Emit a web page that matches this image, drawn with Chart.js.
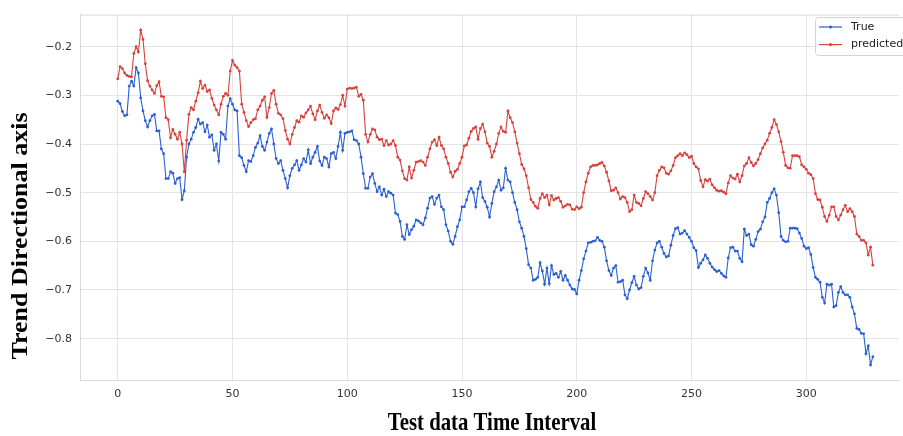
<!DOCTYPE html>
<html>
<head>
<meta charset="utf-8">
<title>Trend Directional axis</title>
<script src="https://cdn.jsdelivr.net/npm/chart.js@4.4.0/dist/chart.umd.min.js"></script>
<style>
  html, body { margin: 0; padding: 0; background: #fff; overflow: hidden; }
  #wrap { position: relative; width: 903px; height: 436px; }
</style>
</head>
<body>
<div id="wrap"><canvas id="trendChart"></canvas></div>
<script>
// tick values for both axes
const xTicks = [0, 50, 100, 150, 200, 250, 300];
const yTicks = [-0.8, -0.7, -0.6, -0.5, -0.4, -0.3, -0.2];
const seriesNames = ["True", "predicted"];

// values, one per test step (0..329)
const trueValues = [
  -0.312, -0.317, -0.333, -0.342, -0.340, -0.281, -0.271, -0.281, -0.243, -0.254,
  -0.305, -0.332, -0.352, -0.365, -0.352, -0.342, -0.339, -0.373, -0.373, -0.410,
  -0.420, -0.471, -0.471, -0.457, -0.460, -0.481, -0.471, -0.469, -0.514, -0.496,
  -0.427, -0.400, -0.390, -0.376, -0.366, -0.349, -0.359, -0.356, -0.375, -0.361,
  -0.386, -0.381, -0.413, -0.400, -0.435, -0.376, -0.380, -0.390, -0.322, -0.307,
  -0.318, -0.330, -0.332, -0.424, -0.428, -0.444, -0.457, -0.434, -0.436, -0.424,
  -0.407, -0.398, -0.383, -0.405, -0.413, -0.396, -0.378, -0.369, -0.400, -0.430,
  -0.440, -0.434, -0.454, -0.471, -0.490, -0.465, -0.450, -0.443, -0.434, -0.454,
  -0.443, -0.430, -0.437, -0.412, -0.440, -0.427, -0.417, -0.405, -0.435, -0.444,
  -0.427, -0.430, -0.447, -0.420, -0.417, -0.430, -0.405, -0.376, -0.413, -0.378,
  -0.376, -0.375, -0.373, -0.391, -0.393, -0.400, -0.427, -0.461, -0.491, -0.491,
  -0.468, -0.461, -0.481, -0.498, -0.488, -0.505, -0.493, -0.508, -0.498, -0.501,
  -0.505, -0.542, -0.545, -0.559, -0.590, -0.596, -0.566, -0.586, -0.576, -0.569,
  -0.556, -0.558, -0.562, -0.566, -0.552, -0.532, -0.511, -0.508, -0.524, -0.511,
  -0.505, -0.529, -0.535, -0.566, -0.579, -0.600, -0.606, -0.590, -0.570, -0.556,
  -0.529, -0.529, -0.515, -0.498, -0.491, -0.500, -0.529, -0.492, -0.478, -0.510,
  -0.518, -0.530, -0.550, -0.522, -0.498, -0.488, -0.474, -0.495, -0.490, -0.450,
  -0.474, -0.478, -0.500, -0.520, -0.535, -0.560, -0.573, -0.590, -0.615, -0.648,
  -0.655, -0.680, -0.678, -0.674, -0.644, -0.661, -0.688, -0.655, -0.687, -0.650,
  -0.668, -0.666, -0.674, -0.662, -0.680, -0.670, -0.680, -0.690, -0.698, -0.699,
  -0.708, -0.680, -0.660, -0.636, -0.620, -0.603, -0.602, -0.600, -0.599, -0.592,
  -0.598, -0.600, -0.612, -0.640, -0.660, -0.670, -0.655, -0.650, -0.684, -0.683,
  -0.680, -0.710, -0.718, -0.700, -0.685, -0.672, -0.690, -0.698, -0.695, -0.672,
  -0.655, -0.665, -0.680, -0.640, -0.618, -0.603, -0.600, -0.612, -0.625, -0.632,
  -0.630, -0.608, -0.588, -0.574, -0.572, -0.585, -0.583, -0.578, -0.585, -0.592,
  -0.600, -0.613, -0.619, -0.654, -0.645, -0.638, -0.628, -0.635, -0.645, -0.653,
  -0.658, -0.662, -0.660, -0.666, -0.671, -0.674, -0.634, -0.613, -0.612, -0.620,
  -0.620, -0.635, -0.642, -0.575, -0.588, -0.585, -0.607, -0.610, -0.596, -0.580,
  -0.575, -0.560, -0.550, -0.520, -0.512, -0.500, -0.492, -0.505, -0.541, -0.590,
  -0.598, -0.601, -0.600, -0.573, -0.573, -0.573, -0.574, -0.583, -0.594, -0.610,
  -0.615, -0.613, -0.627, -0.654, -0.674, -0.678, -0.684, -0.715, -0.727, -0.688,
  -0.690, -0.688, -0.735, -0.732, -0.705, -0.693, -0.705, -0.710, -0.710, -0.715,
  -0.735, -0.749, -0.779, -0.781, -0.789, -0.790, -0.831, -0.815, -0.854, -0.837
];

const predictedValues = [
  -0.266, -0.241, -0.245, -0.254, -0.259, -0.261, -0.262, -0.214, -0.200, -0.211,
  -0.166, -0.185, -0.235, -0.270, -0.281, -0.289, -0.296, -0.280, -0.272, -0.302,
  -0.303, -0.346, -0.350, -0.387, -0.370, -0.380, -0.390, -0.376, -0.400, -0.457,
  -0.392, -0.339, -0.325, -0.330, -0.312, -0.295, -0.271, -0.286, -0.279, -0.292,
  -0.289, -0.306, -0.320, -0.330, -0.340, -0.318, -0.302, -0.296, -0.300, -0.250,
  -0.228, -0.238, -0.243, -0.250, -0.318, -0.335, -0.352, -0.364, -0.356, -0.350,
  -0.348, -0.330, -0.322, -0.310, -0.303, -0.345, -0.325, -0.296, -0.290, -0.318,
  -0.337, -0.340, -0.348, -0.372, -0.390, -0.400, -0.380, -0.366, -0.352, -0.355,
  -0.342, -0.345, -0.336, -0.330, -0.322, -0.338, -0.350, -0.332, -0.320, -0.335,
  -0.347, -0.340, -0.346, -0.358, -0.332, -0.326, -0.329, -0.319, -0.300, -0.322,
  -0.287, -0.285, -0.286, -0.285, -0.283, -0.302, -0.298, -0.310, -0.380, -0.396,
  -0.380, -0.369, -0.371, -0.386, -0.391, -0.390, -0.403, -0.393, -0.402, -0.400,
  -0.393, -0.403, -0.427, -0.433, -0.455, -0.471, -0.474, -0.447, -0.470, -0.454,
  -0.437, -0.436, -0.434, -0.437, -0.444, -0.427, -0.410, -0.396, -0.391, -0.403,
  -0.386, -0.403, -0.410, -0.427, -0.440, -0.458, -0.468, -0.456, -0.452, -0.440,
  -0.427, -0.404, -0.402, -0.388, -0.374, -0.368, -0.365, -0.390, -0.368, -0.359,
  -0.375, -0.398, -0.405, -0.427, -0.415, -0.400, -0.378, -0.365, -0.374, -0.376,
  -0.332, -0.346, -0.356, -0.375, -0.398, -0.420, -0.442, -0.451, -0.465, -0.490,
  -0.514, -0.520, -0.528, -0.532, -0.512, -0.502, -0.510, -0.505, -0.525, -0.506,
  -0.515, -0.512, -0.510, -0.518, -0.530, -0.527, -0.524, -0.525, -0.534, -0.535,
  -0.529, -0.533, -0.530, -0.500, -0.478, -0.460, -0.447, -0.444, -0.444, -0.443,
  -0.440, -0.438, -0.445, -0.458, -0.476, -0.496, -0.495, -0.490, -0.500, -0.513,
  -0.508, -0.510, -0.520, -0.539, -0.535, -0.505, -0.520, -0.522, -0.527, -0.512,
  -0.498, -0.502, -0.508, -0.515, -0.500, -0.465, -0.454, -0.447, -0.449, -0.460,
  -0.462, -0.455, -0.444, -0.428, -0.424, -0.420, -0.424, -0.418, -0.422, -0.428,
  -0.425, -0.440, -0.447, -0.451, -0.475, -0.488, -0.473, -0.476, -0.472, -0.484,
  -0.490, -0.495, -0.497, -0.496, -0.499, -0.502, -0.480, -0.465, -0.470, -0.472,
  -0.462, -0.478, -0.465, -0.445, -0.440, -0.428, -0.438, -0.445, -0.440, -0.432,
  -0.420, -0.408, -0.400, -0.392, -0.378, -0.366, -0.350, -0.360, -0.375, -0.395,
  -0.417, -0.444, -0.449, -0.450, -0.424, -0.424, -0.424, -0.426, -0.443, -0.447,
  -0.452, -0.460, -0.463, -0.471, -0.502, -0.514, -0.515, -0.530, -0.549, -0.559,
  -0.546, -0.529, -0.529, -0.549, -0.556, -0.546, -0.535, -0.526, -0.539, -0.533,
  -0.539, -0.549, -0.585, -0.590, -0.598, -0.598, -0.603, -0.628, -0.612, -0.649
];

const blue = "#2b5fd4";
const red = "#d8413c";

// pair each value with its step number for the linear x axis
const toPoints = vals => vals.map((v, i) => ({ x: i, y: v }));

// light frame on top of the plot (left/bottom come from the axes)
const topFrame = {
  id: "topFrame",
  beforeDatasetsDraw(chart) {
    const a = chart.chartArea, ctx = chart.ctx;
    ctx.save();
    ctx.strokeStyle = "#dadada";
    ctx.lineWidth = 1;
    ctx.beginPath();
    ctx.moveTo(a.left, a.top + 0.5);
    ctx.lineTo(a.right, a.top + 0.5);
    ctx.stroke();
    ctx.restore();
  }
};

// axis titles in bold serif, a bit narrow like the original
const axisTitles = {
  id: "axisTitles",
  afterDraw(chart) {
    const ctx = chart.ctx;
    ctx.save();
    ctx.fillStyle = "#000";
    ctx.font = "bold 26px 'Liberation Serif', 'Times New Roman', serif";
    ctx.textAlign = "center";
    ctx.textBaseline = "middle";
    ctx.translate(21, 236);
    ctx.scale(0.88, 1);
    ctx.rotate(-Math.PI / 2);
    ctx.fillText("Trend Directional axis", 0, 0);
    ctx.restore();

    ctx.save();
    ctx.fillStyle = "#000";
    ctx.font = "bold 26px 'Liberation Serif', 'Times New Roman', serif";
    ctx.textAlign = "center";
    ctx.textBaseline = "middle";
    ctx.translate(492, 423);
    ctx.scale(0.8, 1);
    ctx.fillText("Test data Time Interval", 0, 0);
    ctx.restore();
  }
};

// matplotlib-like legend box: short line with a dot, then the label
const lineLegend = {
  id: "lineLegend",
  afterDraw(chart) {
    const ctx = chart.ctx;
    const boxX = 815, boxY = 17, rowH = 17.6;
    ctx.save();
    ctx.fillStyle = "rgba(255,255,255,0.85)";
    ctx.strokeStyle = "#d4d4d4";
    ctx.lineWidth = 1;
    ctx.beginPath();
    ctx.roundRect(boxX + 0.5, boxY + 0.5, 110, 38, 3);
    ctx.fill();
    ctx.stroke();
    ctx.font = "11px 'DejaVu Sans', sans-serif";
    ctx.textBaseline = "middle";
    chart.data.datasets.forEach((ds, i) => {
      const y = boxY + 10 + i * rowH;
      ctx.strokeStyle = ds.borderColor;
      ctx.lineWidth = 1.2;
      ctx.beginPath();
      ctx.moveTo(819, y);
      ctx.lineTo(842, y);
      ctx.stroke();
      ctx.fillStyle = ds.borderColor;
      ctx.beginPath();
      ctx.arc(830.5, y, 1.6, 0, Math.PI * 2);
      ctx.fill();
      ctx.fillStyle = "#222";
      ctx.fillText(ds.label, 851, y);
    });
    ctx.restore();
  }
};

new Chart(document.getElementById("trendChart"), {
  type: "line",
  data: {
    datasets: [
      {
        label: seriesNames[0],
        data: toPoints(trueValues),
        borderColor: blue,
        backgroundColor: blue,
        borderWidth: 1.1,
        pointRadius: 1.4,
        pointBorderWidth: 0,
        pointBackgroundColor: blue,
        tension: 0
      },
      {
        label: seriesNames[1],
        data: toPoints(predictedValues),
        borderColor: red,
        backgroundColor: red,
        borderWidth: 1.1,
        pointRadius: 1.4,
        pointBorderWidth: 0,
        pointBackgroundColor: red,
        tension: 0
      }
    ]
  },
  options: {
    responsive: true,
    maintainAspectRatio: false,
    animation: false,
    layout: { padding: { top: 11, right: 0, bottom: 0, left: 0 } },
    plugins: {
      legend: { display: false },
      tooltip: { enabled: false }
    },
    scales: {
      x: {
        type: "linear",
        min: -16.45,
        max: 340.4,
        afterBuildTicks: s => { s.ticks = xTicks.map(v => ({ value: v })); },
        afterFit: s => { s.height = 56; },
        grid: { color: "#e4e4e4", lineWidth: 1, drawTicks: false },
        border: { color: "#dadada" },
        ticks: {
          padding: 8,
          color: "#333",
          autoSkip: false,
          maxRotation: 0,
          font: { family: "'DejaVu Sans', sans-serif", size: 11 }
        }
      },
      y: {
        min: -0.885,
        max: -0.134,
        afterBuildTicks: s => { s.ticks = yTicks.map(v => ({ value: v })); },
        afterFit: s => { s.width = 80; },
        grid: { color: "#e4e4e4", lineWidth: 1, drawTicks: false },
        border: { color: "#dadada" },
        ticks: {
          padding: 8,
          color: "#333",
          font: { family: "'DejaVu Sans', sans-serif", size: 11 },
          callback: v => "\u2212" + Math.abs(v).toFixed(1)
        }
      }
    }
  },
  plugins: [topFrame, axisTitles, lineLegend]
});
</script>
</body>
</html>
